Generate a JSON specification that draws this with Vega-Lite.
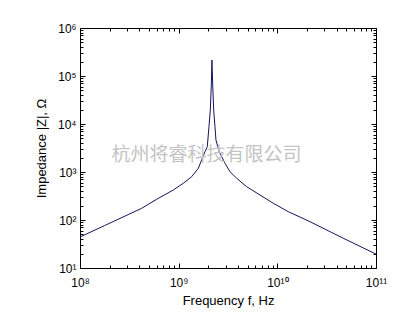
{
  "$schema": "https://vega.github.io/schema/vega-lite/v6.json",
  "width": 296,
  "height": 240,
  "autosize": "none",
  "padding": {"left": 80, "top": 28, "right": 29, "bottom": 54},
  "background": "white",
  "config": {
    "view": {"stroke": null},
    "axis": {
      "grid": false,
      "domainColor": "black",
      "domainWidth": 1,
      "tickColor": "black",
      "tickWidth": 1,
      "labelColor": "black",
      "titleColor": "black",
      "labelFont": "Liberation Sans",
      "titleFont": "Liberation Sans",
      "labelFontSize": 12,
      "titleFontSize": 13,
      "titleFontWeight": "normal",
      "labelOverlap": false,
      "labelFlush": false
    }
  },
  "datasets": {
    "curve": [
      {"f": 1e8, "Z": 44.3},
      {"f": 1.778e8, "Z": 76.7},
      {"f": 3.162e8, "Z": 133},
      {"f": 4.217e8, "Z": 175},
      {"f": 5.984e8, "Z": 270},
      {"f": 8.831e8, "Z": 422},
      {"f": 1.114e9, "Z": 582},
      {"f": 1.355e9, "Z": 798},
      {"f": 1.581e9, "Z": 1194},
      {"f": 1.71e9, "Z": 1778},
      {"f": 1.849e9, "Z": 2649},
      {"f": 1.95e9, "Z": 3365},
      {"f": 2.028e9, "Z": 8790},
      {"f": 2.094e9, "Z": 19590},
      {"f": 2.143e9, "Z": 65010},
      {"f": 2.173e9, "Z": 215300},
      {"f": 2.213e9, "Z": 65010},
      {"f": 2.265e9, "Z": 19590},
      {"f": 2.333e9, "Z": 8790},
      {"f": 2.388e9, "Z": 4645},
      {"f": 2.489e9, "Z": 3365},
      {"f": 2.624e9, "Z": 2455},
      {"f": 2.951e9, "Z": 1514},
      {"f": 3.311e9, "Z": 1014},
      {"f": 3.873e9, "Z": 740},
      {"f": 4.887e9, "Z": 494},
      {"f": 6.668e9, "Z": 332},
      {"f": 9.099e9, "Z": 223},
      {"f": 1.291e10, "Z": 149},
      {"f": 2.143e10, "Z": 92.3},
      {"f": 4.656e10, "Z": 41.7},
      {"f": 1e11, "Z": 19.5}
    ],
    "wm": [{"f": 1.91e9, "Z": 2260, "label": "杭州将睿科技有限公司"}]
  },
  "layer": [
    {
      "data": {"name": "curve"},
      "mark": {"type": "line", "color": "#14145a", "strokeWidth": 1, "clip": true},
      "encoding": {
        "x": {
          "field": "f", "type": "quantitative",
          "scale": {"type": "log", "domain": [1e8, 1e11]},
          "axis": {
            "orient": "bottom",
            "title": "Frequency f, Hz",
            "titlePadding": 4,
            "values": [1e8, 2e8, 3e8, 4e8, 5e8, 6e8, 7e8, 8e8, 9e8, 1e9, 2e9, 3e9, 4e9, 5e9, 6e9, 7e9, 8e9, 9e9, 1e10, 2e10, 3e10, 4e10, 5e10, 6e10, 7e10, 8e10, 9e10, 1e11],
            "labelExpr": "abs(log(datum.value)/LN10 - round(log(datum.value)/LN10)) < 0.001 ? '10' + ['⁰','¹','²','³','⁴','⁵','⁶','⁷','⁸','⁹','¹⁰','¹¹'][round(log(datum.value)/LN10)] : ''",
            "tickSize": {"condition": {"test": "abs(log(datum.value)/LN10 - round(log(datum.value)/LN10)) < 0.001", "value": -5}, "value": -3},
            "labelPadding": 14
          }
        },
        "y": {
          "field": "Z", "type": "quantitative",
          "scale": {"type": "log", "domain": [10, 1e6]},
          "axis": {
            "orient": "left",
            "title": "Impedance |Z|, Ω",
            "titlePadding": 9,
            "values": [10, 20, 30, 40, 50, 60, 70, 80, 90, 100, 200, 300, 400, 500, 600, 700, 800, 900, 1000, 2000, 3000, 4000, 5000, 6000, 7000, 8000, 9000, 1e4, 2e4, 3e4, 4e4, 5e4, 6e4, 7e4, 8e4, 9e4, 1e5, 2e5, 3e5, 4e5, 5e5, 6e5, 7e5, 8e5, 9e5, 1e6],
            "labelExpr": "abs(log(datum.value)/LN10 - round(log(datum.value)/LN10)) < 0.001 ? '10' + ['⁰','¹','²','³','⁴','⁵','⁶','⁷','⁸','⁹','¹⁰','¹¹'][round(log(datum.value)/LN10)] : ''",
            "tickSize": {"condition": {"test": "abs(log(datum.value)/LN10 - round(log(datum.value)/LN10)) < 0.001", "value": -5}, "value": -3},
            "labelPadding": 9
          }
        }
      }
    },
    {
      "data": {"name": "wm"},
      "mark": {"type": "text", "font": "Noto Sans CJK SC", "fontSize": 19, "color": "#c4c4c4", "align": "center", "baseline": "middle"},
      "encoding": {
        "x": {
          "field": "f", "type": "quantitative",
          "scale": {"type": "log", "domain": [1e8, 1e11]},
          "axis": {
            "orient": "top", "title": null, "labels": false,
            "values": [1e8, 2e8, 3e8, 4e8, 5e8, 6e8, 7e8, 8e8, 9e8, 1e9, 2e9, 3e9, 4e9, 5e9, 6e9, 7e9, 8e9, 9e9, 1e10, 2e10, 3e10, 4e10, 5e10, 6e10, 7e10, 8e10, 9e10, 1e11],
            "tickSize": {"condition": {"test": "abs(log(datum.value)/LN10 - round(log(datum.value)/LN10)) < 0.001", "value": -5}, "value": -3}
          }
        },
        "y": {
          "field": "Z", "type": "quantitative",
          "scale": {"type": "log", "domain": [10, 1e6]},
          "axis": {
            "orient": "right", "title": null, "labels": false,
            "values": [10, 20, 30, 40, 50, 60, 70, 80, 90, 100, 200, 300, 400, 500, 600, 700, 800, 900, 1000, 2000, 3000, 4000, 5000, 6000, 7000, 8000, 9000, 1e4, 2e4, 3e4, 4e4, 5e4, 6e4, 7e4, 8e4, 9e4, 1e5, 2e5, 3e5, 4e5, 5e5, 6e5, 7e5, 8e5, 9e5, 1e6],
            "tickSize": {"condition": {"test": "abs(log(datum.value)/LN10 - round(log(datum.value)/LN10)) < 0.001", "value": -5}, "value": -3}
          }
        },
        "text": {"field": "label"}
      }
    }
  ],
  "resolve": {"axis": {"x": "independent", "y": "independent"}}
}
